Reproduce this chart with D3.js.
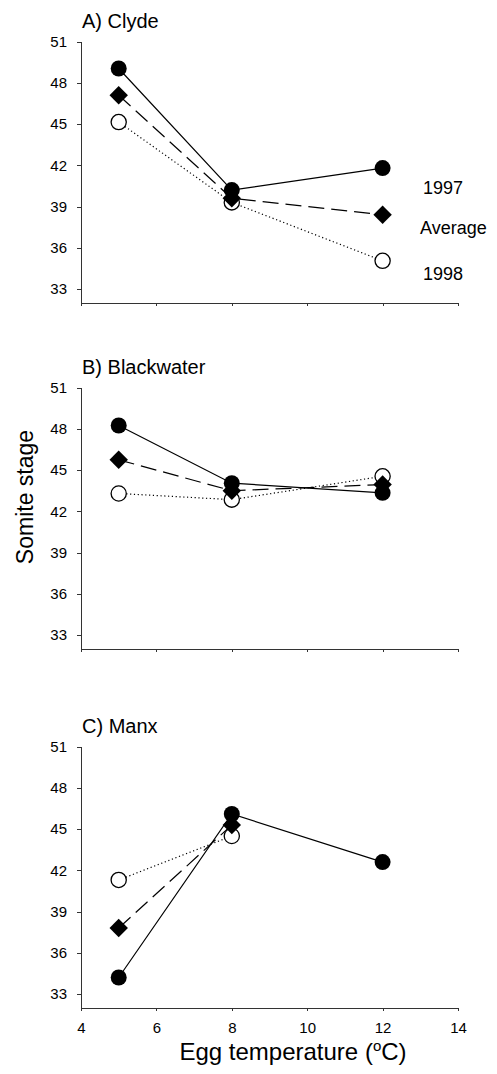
<!DOCTYPE html>
<html>
<head>
<meta charset="utf-8">
<script src="https://cdn.jsdelivr.net/npm/d3@7"></script>
<style>
  body { margin: 0; background: #fff; }
  text { font-family: "Liberation Sans", Arial, sans-serif; fill: #000; }
  .axis path, .axis line { stroke: #333; stroke-width: 1; shape-rendering: crispEdges; }
  .axis text { font-size: 15px; }
</style>
</head>
<body>
<div id="chart"></div>
<script>
// data
var temps = [5, 8, 12];
var panelTitles = ["A) Clyde", "B) Blackwater", "C) Manx"];
var seriesNames = ["1997", "Average", "1998"];

var clyde1997 = [49.05, 40.2, 41.8];
var clydeAvg = [47.1, 39.6, 38.4];
var clyde1998 = [45.15, 39.3, 35.05];

var black1997 = [48.25, 44.05, 43.35];
var blackAvg = [45.75, 43.5, 43.95];
var black1998 = [43.3, 42.85, 44.55];

var manx1997 = [34.2, 46.1, 42.6];
var manxAvg = [37.8, 45.3, null];
var manx1998 = [41.3, 44.5, null];

var yTicks = [33, 36, 39, 42, 45, 48, 51];
var xTicks = [4, 6, 8, 10, 12, 14];

var panelData = [
    [clyde1997, clydeAvg, clyde1998],
    [black1997, blackAvg, black1998],
    [manx1997, manxAvg, manx1998]
];

// set the dimensions
var width = 497, height = 1074;
var left = 81, right = 458;
var panelTops = [41.7, 387.7, 746.7];
var panelHeight = 261;

var svg = d3.select("#chart")
    .append("svg")
    .attr("width", width)
    .attr("height", height);

var x = d3.scaleLinear()
    .domain([4, 14])
    .range([left, right]);

// line styles: 1997 solid, average long dash, 1998 dotted
var dashes = [null, "16,7", "1.2,2.6"];
// draw order: 1998 first, 1997 on top
var drawOrder = [2, 1, 0];

panelData.forEach(function(series, p) {
    var top = panelTops[p];
    var g = svg.append("g")
        .attr("transform", "translate(0," + top + ")");

    var y = d3.scaleLinear()
        .domain([32, 51])
        .range([panelHeight, 0]);

    // Y axis
    g.append("g")
        .attr("class", "axis")
        .attr("transform", "translate(" + left + ",0)")
        .call(d3.axisLeft(y).tickValues(yTicks).tickSize(4).tickPadding(10).tickSizeOuter(0));

    // X axis (labels only on the bottom panel)
    var xAxis = d3.axisBottom(x).tickValues(xTicks).tickSize(3).tickPadding(12).tickSizeOuter(0);
    if (p < 2) xAxis.tickFormat("");
    g.append("g")
        .attr("class", "axis")
        .attr("transform", "translate(0," + panelHeight + ")")
        .call(xAxis);

    // panel title
    g.append("text")
        .attr("x", left + 1)
        .attr("y", -14)
        .style("font-size", "20px")
        .text(panelTitles[p]);

    drawOrder.forEach(function(s) {
        var pts = temps.map(function(t, i) { return {t: t, v: series[s][i]}; })
            .filter(function(d) { return d.v !== null; });

        var line = d3.line()
            .x(function(d) { return x(d.t); })
            .y(function(d) { return y(d.v); });

        g.append("path")
            .datum(pts)
            .attr("d", line)
            .attr("fill", "none")
            .attr("stroke", "#000")
            .attr("stroke-width", 1.2)
            .attr("stroke-dasharray", dashes[s]);
    });

    drawOrder.forEach(function(s) {
        var pts = temps.map(function(t, i) { return {t: t, v: series[s][i]}; })
            .filter(function(d) { return d.v !== null; });

        var marks = g.selectAll(".mark" + s)
            .data(pts)
            .enter();

        if (s === 1) {
            marks.append("path")
                .attr("d", d3.symbol().type(d3.symbolSquare).size(170))
                .attr("transform", function(d) { return "translate(" + x(d.t) + "," + y(d.v) + ") rotate(45)"; })
                .attr("fill", "#000");
        } else {
            marks.append("circle")
                .attr("cx", function(d) { return x(d.t); })
                .attr("cy", function(d) { return y(d.v); })
                .attr("r", s === 0 ? 8 : 7.6)
                .attr("fill", s === 0 ? "#000" : "#fff")
                .attr("stroke", "#000")
                .attr("stroke-width", s === 0 ? 0 : 1.3);
        }
    });
});

// series labels on the right of panel A
var labelY = [194, 234, 280];
var labelX = [423, 420, 423];
seriesNames.forEach(function(name, i) {
    svg.append("text")
        .attr("x", labelX[i])
        .attr("y", labelY[i])
        .style("font-size", "18px")
        .text(name);
});

// Y axis label
svg.append("text")
    .attr("transform", "translate(33,497) rotate(-90)")
    .style("text-anchor", "middle")
    .style("font-size", "23px")
    .text("Somite stage");

// X axis label
var xlab = svg.append("text")
    .attr("x", 293)
    .attr("y", 1060)
    .style("text-anchor", "middle")
    .style("font-size", "24px");
xlab.append("tspan").text("Egg temperature (");
xlab.append("tspan").attr("dy", -9).style("font-size", "15px").text("o");
xlab.append("tspan").attr("dy", 9).text("C)");
</script>
</body>
</html>
